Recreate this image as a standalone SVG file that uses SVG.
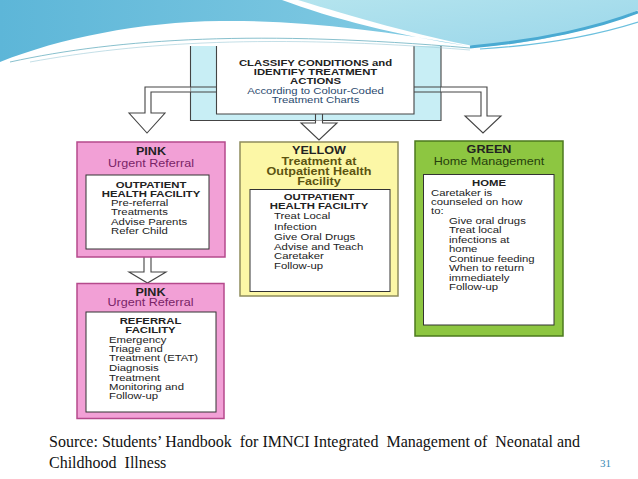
<svg xmlns="http://www.w3.org/2000/svg" width="638" height="479" viewBox="0 0 638 479">
<defs>
<linearGradient id="gBlue" x1="0" y1="0" x2="1" y2="0">
<stop offset="0" stop-color="#5db6d8"/><stop offset="1" stop-color="#86cde4"/>
</linearGradient>
<linearGradient id="gCyan" x1="0" y1="0" x2="1" y2="1">
<stop offset="0" stop-color="#b4e4ee"/><stop offset="1" stop-color="#9ad6ea"/>
</linearGradient>
<style>
.t{font-family:"Liberation Sans",Arial,sans-serif;font-size:9px;fill:#222}
.b{font-weight:bold}
.c{text-anchor:middle}
.h{font-size:10px}
.src{font-family:"Liberation Serif","Times New Roman",serif;font-size:16px;fill:#111;white-space:pre}
.conn{fill:#fff;stroke:#444;stroke-width:1.1;stroke-linejoin:miter}
.ln{stroke:#444;stroke-width:1.1;fill:none}
.pink{fill:#f2a0d6;stroke:#b54a8c;stroke-width:1.5}
.yel{fill:#fcf7a6;stroke:#8e8c5c;stroke-width:1.5}
.grn{fill:#8dc641;stroke:#4c7a1e;stroke-width:1.5}
.inner{fill:#fff;stroke:#333;stroke-width:1}
</style>
</defs>
<rect width="638" height="479" fill="#fff"/>

<!-- top node -->
<g id="classify">
<path d="M190.5,46 V120.5 H441 V46" fill="#c8eef5" stroke="#444" stroke-width="1.1"/>
<path d="M216.5,46 V114 H414 V46" fill="#fff" stroke="#444" stroke-width="1.1"/>
<g transform="translate(315.5,0) scale(1.26,1)">
<text class="t b c" x="0" y="66.5">CLASSIFY CONDITIONS and</text>
<text class="t b c" x="0" y="75.5">IDENTIFY TREATMENT</text>
<text class="t b c" x="0" y="84.5">ACTIONS</text>
<text class="t c" x="0" y="94" style="fill:#2b4a6e">According to Colour-Coded</text>
<text class="t c" x="0" y="103.3" style="fill:#2b4a6e">Treatment Charts</text>
</g>
</g>

<!-- background wave -->
<g id="wave">
<path d="M0,0 H282 C330,18 400,36 468,46 C380,30 300,20 220,21 C140,22 60,38 0,62 Z" fill="url(#gBlue)"/>
<path d="M298,0 H638 V10 C600,28 540,43 478,47 C420,36 350,16 298,0 Z" fill="url(#gCyan)"/>
<path d="M470,47 C540,41 600,27 638,12" fill="none" stroke="#4aaad2" stroke-width="3"/>
<path d="M480,49 C545,45 600,34 638,22" fill="none" stroke="#6cc0de" stroke-width="1.2"/>
<path d="M10,62 C120,38 260,30 470,48" fill="none" stroke="#6ab0c0" stroke-width="0.8"/>
<path d="M30,62 C140,42 270,34 470,50" fill="none" stroke="#9ccad6" stroke-width="0.6"/>
</g>

<!-- connectors -->
<g id="connectors">
<path class="conn" d="M190.5,87 H145 V113 H129 L147,133 L165,113 H151 V92 H190.5"/>
<path class="ln" d="M190.5,87 H216.5 M190.5,92 H216.5"/>
<path class="conn" d="M441,87 H487 V116 H501 L483,133 L465,116 H481 V92 H441"/>
<path class="ln" d="M414,87 H441 M414,92 H441"/>
<path class="conn" d="M315.5,120.5 V123 H301 L319,140 L337,123 H322.5 V120.5"/>
<path class="ln" d="M315.5,114 V120.5 M322.5,114 V120.5"/>
<path class="conn" d="M144,256.5 V272 H129 L147.5,283 L166,272 H151 V256.5"/>
</g>

<!-- pink outpatient -->
<g id="pink-outpatient">
<rect class="pink" x="77" y="142" width="148" height="115"/>
<rect class="inner" x="86" y="175" width="123" height="74"/>
<g transform="translate(151,0) scale(1.26,1)">
<text class="t b c h" x="0" y="155.5">PINK</text>
<text class="t c h" x="0" y="167" style="fill:#7a2468">Urgent Referral</text>
<text class="t b c" x="0" y="188.5">OUTPATIENT</text>
<text class="t b c" x="0" y="197.5">HEALTH FACILITY</text>
<text class="t" x="-31.7" y="206.5">Pre-referral</text>
<text class="t" x="-31.7" y="215.5">Treatments</text>
<text class="t" x="-31.7" y="225">Advise Parents</text>
<text class="t" x="-31.7" y="234">Refer Child</text>
</g>
</g>

<!-- yellow -->
<g id="yellow">
<rect class="yel" x="240" y="142" width="158" height="154"/>
<rect class="inner" x="250" y="189.5" width="140" height="102"/>
<g transform="translate(319,0) scale(1.26,1)">
<text class="t b c h" x="0" y="154.5">YELLOW</text>
<text class="t b c h" x="0" y="165.5" style="fill:#5c5410">Treatment at</text>
<text class="t b c h" x="0" y="175.5" style="fill:#5c5410">Outpatient Health</text>
<text class="t b c h" x="0" y="185.5" style="fill:#5c5410">Facility</text>
<text class="t b c" x="0" y="200">OUTPATIENT</text>
<text class="t b c" x="0" y="209.5">HEALTH FACILITY</text>
<text class="t" x="-35.7" y="219.5">Treat Local</text>
<text class="t" x="-35.7" y="230">Infection</text>
<text class="t" x="-35.7" y="240">Give Oral Drugs</text>
<text class="t" x="-35.7" y="250">Advise and Teach</text>
<text class="t" x="-35.7" y="259.5">Caretaker</text>
<text class="t" x="-35.7" y="269.5">Follow-up</text>
</g>
</g>

<!-- green -->
<g id="green">
<rect class="grn" x="415" y="141" width="148" height="195"/>
<rect class="inner" x="423.5" y="174.5" width="130.5" height="150.5"/>
<g transform="translate(489,0) scale(1.26,1)">
<text class="t b c h" x="0" y="153.5">GREEN</text>
<text class="t c h" x="0" y="165" style="fill:#26400c">Home Management</text>
<text class="t b c" x="0" y="186.5">HOME</text>
<text class="t" x="-46" y="196">Caretaker is</text>
<text class="t" x="-46" y="205.5">counseled on how</text>
<text class="t" x="-46" y="214.5">to:</text>
<text class="t" x="-31.7" y="224">Give oral drugs</text>
<text class="t" x="-31.7" y="233.5">Treat local</text>
<text class="t" x="-31.7" y="243">infections at</text>
<text class="t" x="-31.7" y="252.5">home</text>
<text class="t" x="-31.7" y="262">Continue feeding</text>
<text class="t" x="-31.7" y="271.5">When to return</text>
<text class="t" x="-31.7" y="281">immediately</text>
<text class="t" x="-31.7" y="290.5">Follow-up</text>
</g>
</g>

<!-- pink referral -->
<g id="pink-referral">
<rect class="pink" x="77" y="283.5" width="147" height="135"/>
<rect class="inner" x="86" y="312" width="130" height="100"/>
<g transform="translate(150.5,0) scale(1.26,1)">
<text class="t b c h" x="0" y="296.5">PINK</text>
<text class="t c h" x="0" y="306.5" style="fill:#7a2468">Urgent Referral</text>
<text class="t b c" x="0" y="324">REFERRAL</text>
<text class="t b c" x="0" y="333">FACILITY</text>
<text class="t" x="-32.9" y="343">Emergency</text>
<text class="t" x="-32.9" y="352">Triage and</text>
<text class="t" x="-32.9" y="361.5">Treatment (ETAT)</text>
<text class="t" x="-32.9" y="371.5">Diagnosis</text>
<text class="t" x="-32.9" y="381">Treatment</text>
<text class="t" x="-32.9" y="390">Monitoring and</text>
<text class="t" x="-32.9" y="399.5">Follow-up</text>
</g>
</g>

<!-- source -->
<g id="source">
<text class="src" x="49" y="447">Source: Students’ Handbook  for IMNCI Integrated  Management of  Neonatal and</text>
<text class="src" x="49" y="468">Childhood  Illness</text>
<text x="600" y="467" style="font-family:'Liberation Serif',serif;font-size:11px;fill:#3a8ab5">31</text>
</g>
</svg>
